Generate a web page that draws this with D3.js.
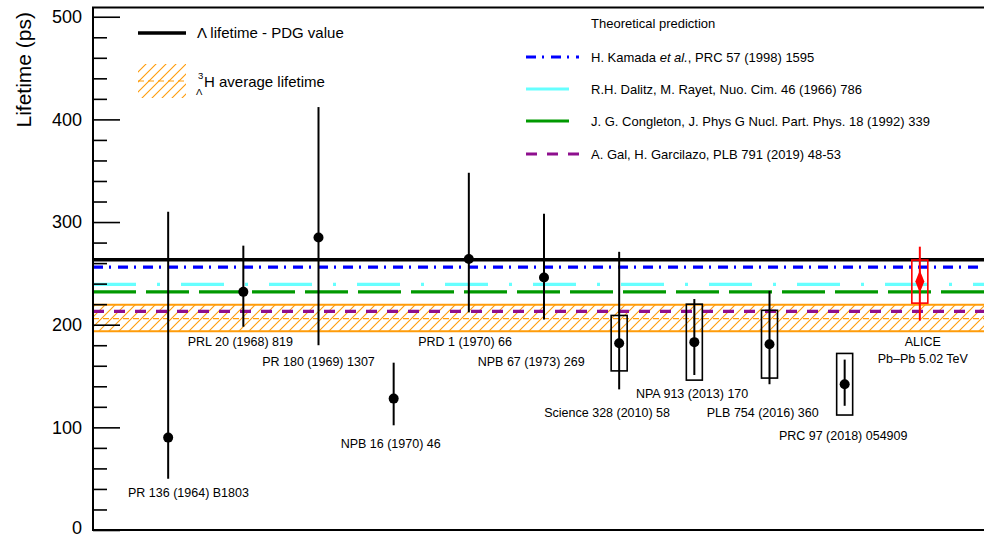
<!DOCTYPE html>
<html>
<head>
<meta charset="utf-8">
<script src="https://cdn.jsdelivr.net/npm/d3@7"></script>
<style>
  body { margin: 0; background: #fff; }
  text { font-family: "Liberation Sans", Arial, Helvetica, sans-serif; }
</style>
</head>
<body>
<div id="chart"></div>
<script>
// measurements, in order along the x axis
const refs = [
  'PR 136 (1964) B1803', 'PRL 20 (1968) 819', 'PR 180 (1969) 1307', 'NPB 16 (1970) 46',
  'PRD 1 (1970) 66', 'NPB 67 (1973) 269', 'Science 328 (2010) 58', 'NPA 913 (2013) 170',
  'PLB 754 (2016) 360', 'PRC 97 (2018) 054909', 'ALICE'
];
const tau = [90, 232, 285, 128, 264, 246, 182, 183, 181, 142, 242];
const errHi = [220, 45, 127, 35, 84, 62, 89, 42, 52, 24, 34];
const errLo = [40, 34, 105, 26, 52, 41, 45, 32, 39, 21, 38];
const syst = [null, null, null, null, null, null, 27, 37, 33, 30, 21];

// label anchor: offset in x (slots) and baseline (ps)
const labelDx = [0.27, -0.04, 0, -0.04, -0.05, -0.17, -0.16, -0.03, -0.09, -0.02, 0.04];
const labelY = [32, 179, 160, 80, 179, 160, 110, 129, 110, 88, 179];

// reference lines
const pdgLambda = 263.2;
const avgTau = 206, avgLo = 193.5, avgHi = 219.5;
const theory = [
  { name: 'Kamada', value: 256, color: '#0000ff', dash: '10,6,2,7' },
  { name: 'Dalitz', value: 239.3, color: '#66ffff', dash: '43,21,3,21' },
  { name: 'Congleton', value: 232, color: '#009900', dash: '43,10' },
  { name: 'Gal', value: 213, color: '#8e0f8e', dash: '11,10' },
];
const yTicks = [0, 100, 200, 300, 400, 500];

const size = { width: 984, height: 537 };
const orange = '#ff9c0a';

const svg = d3.select('#chart')
  .append('svg')
  .attr('width', size.width)
  .attr('height', size.height);

const x = d3.scaleLinear().domain([0, 12]).range([93, 995]);
const y = d3.scaleLinear().domain([0, 509]).range([530, 7.5]);

const x0 = x(0), x1 = x(12);

// hatch pattern
const defs = svg.append('defs');
const pat = defs.append('pattern')
  .attr('id', 'hatch')
  .attr('patternUnits', 'userSpaceOnUse')
  .attr('width', 10).attr('height', 10);
pat.append('path')
  .attr('d', 'M0,10 L10,0 M-2,2 L2,-2 M8,12 L12,8')
  .style('fill', 'none')
  .style('stroke', orange)
  .style('stroke-width', '1.1px');

// average lifetime band
svg.append('rect')
  .attr('x', x0).attr('y', y(avgHi))
  .attr('width', x1 - x0).attr('height', y(avgLo) - y(avgHi))
  .attr('fill', 'url(#hatch)');
[avgLo, avgHi].forEach((v) => {
  svg.append('line')
    .attr('x1', x0).attr('x2', x1)
    .attr('y1', y(v)).attr('y2', y(v))
    .attr('stroke', orange).attr('stroke-width', 2);
});
svg.append('line')
  .attr('x1', x0).attr('x2', x1)
  .attr('y1', y(avgTau)).attr('y2', y(avgTau))
  .attr('stroke', orange).attr('stroke-width', 1.2)
  .attr('stroke-dasharray', '6,4');

// theory lines
svg.selectAll('.theory')
  .data(theory)
  .enter()
  .append('line')
  .attr('x1', x0).attr('x2', x1)
  .attr('y1', (d) => y(d.value)).attr('y2', (d) => y(d.value))
  .attr('stroke', (d) => d.color)
  .attr('stroke-width', 3.2)
  .attr('stroke-dasharray', (d) => d.dash);

// PDG lambda
svg.append('line')
  .attr('x1', x0).attr('x2', x1)
  .attr('y1', y(pdgLambda)).attr('y2', y(pdgLambda))
  .attr('stroke', '#000').attr('stroke-width', 3.5);

// measurements
const pts = tau.map((t, i) => ({
  i, t, hi: errHi[i], lo: errLo[i], s: syst[i], ref: refs[i],
  color: i === tau.length - 1 ? '#ff0000' : '#000',
}));

svg.selectAll('.sys')
  .data(pts.filter((d) => d.s !== null))
  .enter()
  .append('rect')
  .attr('x', (d) => x(d.i + 1) - 8)
  .attr('y', (d) => y(d.t + d.s))
  .attr('width', 16)
  .attr('height', (d) => y(d.t - d.s) - y(d.t + d.s))
  .attr('fill', 'none')
  .attr('stroke', (d) => d.color)
  .attr('stroke-width', 1.6);

svg.selectAll('.err')
  .data(pts)
  .enter()
  .append('line')
  .attr('x1', (d) => x(d.i + 1)).attr('x2', (d) => x(d.i + 1))
  .attr('y1', (d) => y(d.t + d.hi)).attr('y2', (d) => y(d.t - d.lo))
  .attr('stroke', (d) => d.color)
  .attr('stroke-width', 2);

svg.selectAll('.dot')
  .data(pts.slice(0, -1))
  .enter()
  .append('circle')
  .attr('cx', (d) => x(d.i + 1))
  .attr('cy', (d) => y(d.t))
  .attr('r', 5)
  .attr('fill', '#000');

const alice = pts[pts.length - 1];
svg.append('path')
  .attr('d', d3.symbol(d3.symbolDiamond, 110)())
  .attr('transform', `translate(${x(alice.i + 1)},${y(alice.t)}) scale(0.8,1.15)`)
  .attr('fill', '#ff0000');

// reference labels
svg.selectAll('.lab')
  .data(pts)
  .enter()
  .append('text')
  .attr('x', (d) => x(d.i + 1 + labelDx[d.i]))
  .attr('y', (d) => y(labelY[d.i]))
  .attr('text-anchor', 'middle')
  .attr('font-size', 12.5)
  .attr('fill', '#000')
  .text((d) => d.ref);
svg.append('text')
  .attr('x', x(alice.i + 1 + labelDx[alice.i]))
  .attr('y', y(labelY[alice.i]) + 17)
  .attr('text-anchor', 'middle')
  .attr('font-size', 12.5)
  .text('Pb\u2013Pb 5.02 TeV');

// axes
const yAxis = d3.axisLeft(y)
  .tickValues(yTicks)
  .tickSizeInner(-27)
  .tickSizeOuter(0)
  .tickPadding(11)
  .tickFormat(d3.format('d'));
const yMinor = d3.axisLeft(y)
  .tickValues(d3.range(0, 509, 20).filter((v) => v % 100 !== 0))
  .tickSizeInner(-14)
  .tickSizeOuter(0)
  .tickFormat('');

const gMinor = svg.append('g').attr('transform', `translate(${x0},0)`).call(yMinor);
const gAxis = svg.append('g').attr('transform', `translate(${x0},0)`).call(yAxis);
[gMinor, gAxis].forEach((g) => {
  g.select('.domain').remove();
  g.selectAll('line').attr('stroke', '#000').attr('stroke-width', 1.6);
});
gAxis.selectAll('text')
  .attr('font-size', 18)
  .attr('font-family', '"Liberation Sans", Arial, sans-serif')
  .attr('fill', '#000');
gAxis.selectAll('.tick').filter((d) => d === 0).select('text').attr('dy', '0.2em');

// frame
svg.append('path')
  .attr('d', `M${x1},${y(509)} L${x0},${y(509)} L${x0},${y(0)} L${x1},${y(0)}`)
  .attr('fill', 'none')
  .attr('stroke', '#000')
  .attr('stroke-width', 2);

svg.append('text')
  .attr('transform', 'translate(31,12) rotate(-90)')
  .attr('text-anchor', 'end')
  .attr('font-size', 21)
  .text('Lifetime (ps)');

// left legend
svg.append('line')
  .attr('x1', 138).attr('x2', 186).attr('y1', 33).attr('y2', 33)
  .attr('stroke', '#000').attr('stroke-width', 3.5);
svg.append('text')
  .attr('x', 197).attr('y', 38)
  .attr('font-size', 15)
  .text('\u039b lifetime - PDG value');
svg.append('rect')
  .attr('x', 138).attr('y', 64).attr('width', 48).attr('height', 34)
  .attr('fill', 'url(#hatch)');
svg.append('line')
  .attr('x1', 138).attr('x2', 186).attr('y1', 81).attr('y2', 81)
  .attr('stroke', orange).attr('stroke-width', 1.2)
  .attr('stroke-dasharray', '6,4');
const hyp = svg.append('g');
hyp.append('text').attr('x', 198).attr('y', 79).attr('font-size', 9.5).text('3');
hyp.append('text').attr('x', 196).attr('y', 95).attr('font-size', 9.5).text('\u039b');
hyp.append('text').attr('x', 204).attr('y', 87).attr('font-size', 15).text('H average lifetime');

// right legend
svg.append('text')
  .attr('x', 591).attr('y', 28)
  .attr('font-size', 13)
  .text('Theoretical prediction');
const legY = [57, 89, 121, 154];
theory.forEach((d, i) => {
  svg.append('line')
    .attr('x1', 526).attr('x2', 579)
    .attr('y1', legY[i]).attr('y2', legY[i])
    .attr('stroke', d.color)
    .attr('stroke-width', 3.2)
    .attr('stroke-dasharray', d.dash);
});
const kam = svg.append('text').attr('x', 591).attr('y', legY[0] + 5).attr('font-size', 13);
kam.append('tspan').text('H. Kamada ');
kam.append('tspan').attr('font-style', 'italic').text('et al.');
kam.append('tspan').text(', PRC 57 (1998) 1595');
const legText = [
  null,
  'R.H. Dalitz, M. Rayet, Nuo. Cim. 46 (1966) 786',
  'J. G. Congleton, J. Phys G Nucl. Part. Phys. 18 (1992) 339',
  'A. Gal, H. Garcilazo, PLB 791 (2019) 48-53',
];
legText.forEach((t, i) => {
  if (!t) return;
  svg.append('text')
    .attr('x', 591).attr('y', legY[i] + 5)
    .attr('font-size', 13)
    .text(t);
});
</script>
</body>
</html>
